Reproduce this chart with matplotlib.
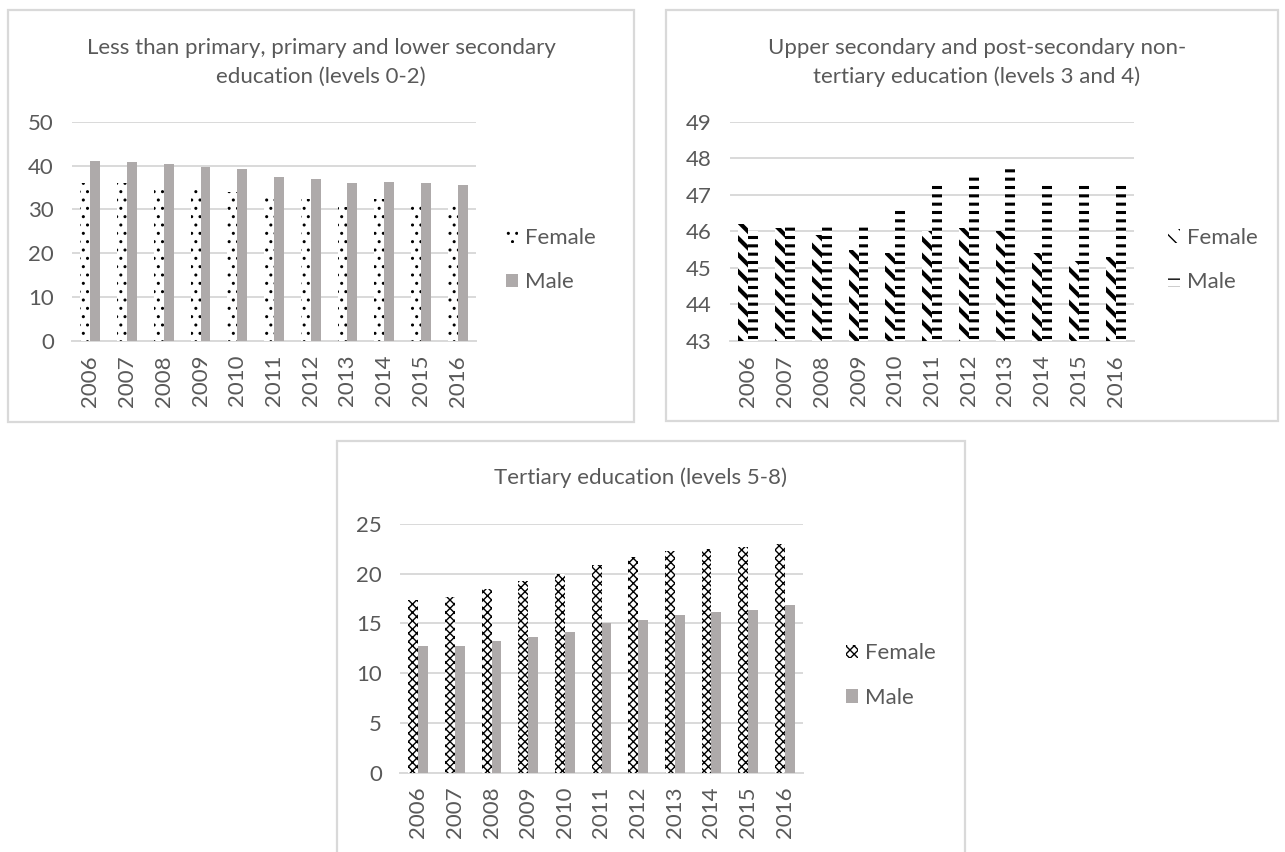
import numpy as np
import matplotlib
matplotlib.use("Agg")
import matplotlib.pyplot as plt
from matplotlib.patches import Rectangle

# ---- data -------------------------------------------------------------
years = ["2006", "2007", "2008", "2009", "2010", "2011",
         "2012", "2013", "2014", "2015", "2016"]

low_female = [36.0, 36.0, 34.8, 34.8, 34.0, 33.1, 32.3, 30.5, 32.3, 31.4, 31.4]
low_male = [41.0, 40.7, 40.4, 39.7, 39.2, 37.5, 36.9, 36.0, 36.3, 36.0, 35.6]

mid_female = [46.2, 46.1, 45.9, 45.5, 45.4, 46.0, 46.1, 46.0, 45.4, 45.2, 45.3]
mid_male = [46.0, 46.2, 46.2, 46.2, 46.7, 47.3, 47.5, 47.8, 47.3, 47.3, 47.3]

high_female = [17.4, 17.7, 18.5, 19.3, 20.0, 20.9, 21.7, 22.3, 22.5, 22.7, 23.0]
high_male = [12.7, 12.7, 13.2, 13.6, 14.1, 15.0, 15.4, 15.9, 16.2, 16.4, 16.9]

titles = [
    "Less than primary, primary and lower secondary\neducation (levels 0-2)",
    "Upper secondary and post-secondary non-\ntertiary education (levels 3 and 4)",
    "Tertiary education (levels 5-8)",
]
series_names = ["Female", "Male"]

# ---- style ------------------------------------------------------------
W, H = 1285, 852
TEXT = "#595959"
GRID = "#D9D9D9"
GREY_BAR = "#AEAAAA"
FS = 16

plt.rcParams["font.family"] = ["Lato", "DejaVu Sans"]

fig = plt.figure(figsize=(W / 100, H / 100), dpi=100)
fig.patch.set_facecolor("white")


def box(x0, y0, x1, y1):
    """Pixel box (top-left origin) -> figure fraction rect."""
    return [x0 / W, 1 - y1 / H, (x1 - x0) / W, (y1 - y0) / H]


def frame(x0, y0, x1, y1):
    r = Rectangle((x0 / W, 1 - y1 / H), (x1 - x0) / W, (y1 - y0) / H,
                  transform=fig.transFigure, fill=False,
                  edgecolor=GRID, linewidth=1.6, zorder=0)
    fig.add_artist(r)


# chart frames
frame(8, 10, 634, 422)
frame(666, 10, 1278, 421)
frame(337, 441, 965, 860)


def hatched_bars(ax, x, values, w, label, style):
    style = dict(style)
    hlw = style.pop("hatch_lw", None)
    if hlw is None:
        return ax.bar(x, values, width=w, label=label, zorder=3, **style)
    with plt.rc_context({"hatch.linewidth": hlw}):
        bars = ax.bar(x, values, width=w, label=label, zorder=3, **style)
    for p in bars:
        if hasattr(p, "set_hatch_linewidth"):
            p.set_hatch_linewidth(hlw)
    return bars


def make_panel(rect, female, male, ylim, step, title, title_xy,
               f_style, m_style, legend_xy):
    ax = fig.add_axes(box(*rect))
    x = np.arange(len(years))
    w = 0.27
    bf = hatched_bars(ax, x - w / 2, female, w, series_names[0], f_style)
    bm = hatched_bars(ax, x + w / 2, male, w, series_names[1], m_style)
    ax.set_xlim(-0.5, len(years) - 0.5)
    ax.set_ylim(*ylim)
    ax.set_yticks(np.arange(ylim[0], ylim[1] + step / 2, step))
    ax.set_xticks(x)
    ax.set_xticklabels(years, rotation=90)
    ax.yaxis.grid(True, color=GRID, linewidth=1.4, zorder=0)
    ax.set_axisbelow(True)
    for s in ("top", "right", "left"):
        ax.spines[s].set_visible(False)
    ax.spines["bottom"].set_color(GRID)
    ax.spines["bottom"].set_linewidth(1.4)
    ax.tick_params(axis="both", length=0, labelsize=FS, colors=TEXT)
    ax.tick_params(axis="y", pad=13)
    ax.tick_params(axis="x", pad=10)
    ax.set_facecolor("none")

    fig.text(title_xy[0] / W, 1 - title_xy[1] / H, title, ha="center",
             va="center", fontsize=FS, color=TEXT, linespacing=1.5)

    lx, ly = legend_xy
    leg = fig.legend(handles=[bf, bm], loc="center left",
                     bbox_to_anchor=(lx / W, 1 - ly / H),
                     frameon=False, fontsize=FS, handlelength=0.55,
                     handleheight=0.55, handletextpad=0.3,
                     labelspacing=1.1, borderpad=0, borderaxespad=0)
    for t in leg.get_texts():
        t.set_color(TEXT)
    return ax


dots = dict(facecolor="white", edgecolor="black", linewidth=0, hatch="..",
            hatch_lw=1.0)
grey = dict(color=GREY_BAR, linewidth=0)
stripes = dict(facecolor="white", edgecolor="black", linewidth=0,
               hatch="\\\\", hatch_lw=3.0)
dashes = dict(facecolor="white", edgecolor="black", linewidth=0, hatch="--",
              hatch_lw=2.2)
lattice = dict(facecolor="white", edgecolor="black", linewidth=0,
               hatch="xxxx", hatch_lw=1.0)

make_panel((72, 121.7, 476, 341), low_female, low_male, (0, 50), 10,
           titles[0], (321, 62.5), dots, grey, (505.7, 260))
make_panel((730, 121.7, 1134, 341), mid_female, mid_male, (43, 49), 1,
           titles[1], (977, 62.5), stripes, dashes, (1168, 260))
make_panel((400, 524, 803, 772.7), high_female, high_male, (0, 25), 5,
           titles[2], (640, 478), lattice, grey, (846, 675.5))

fig.savefig("out.png", dpi=100, facecolor="white")
